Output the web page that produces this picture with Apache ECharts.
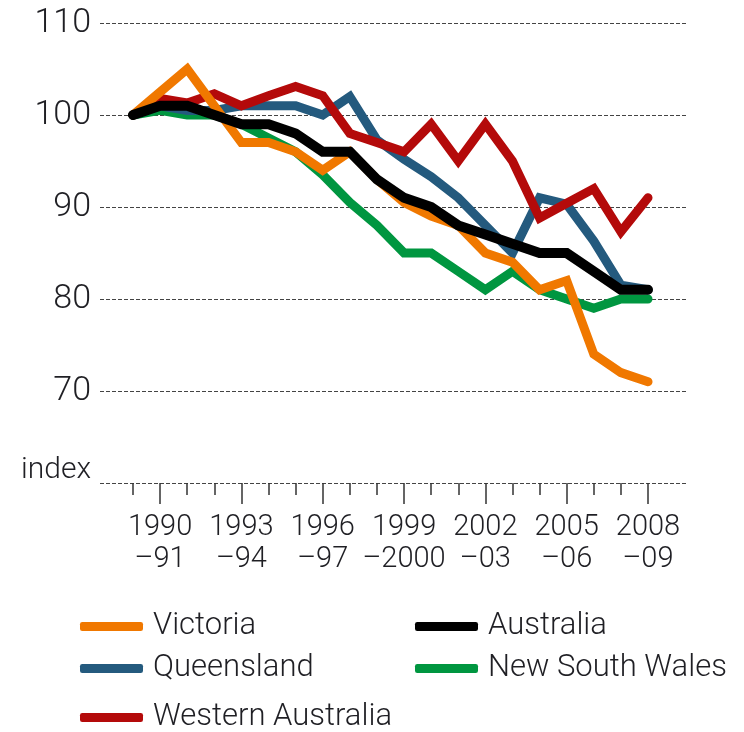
<!DOCTYPE html>
<html>
<head>
<meta charset="utf-8">
<script src="https://cdn.jsdelivr.net/npm/echarts@6/dist/echarts.min.js"></script>
<style>
  html, body { margin: 0; padding: 0; background: #fff; }
  #chart { width: 744px; height: 732px; }
</style>
</head>
<body>
<div id="chart"></div>
<script>
// financial years 1989-90 .. 2008-09
var years = ['1989\n–90', '1990\n–91', '1991\n–92', '1992\n–93', '1993\n–94', '1994\n–95',
  '1995\n–96', '1996\n–97', '1997\n–98', '1998\n–99', '1999\n–2000', '2000\n–01',
  '2001\n–02', '2002\n–03', '2003\n–04', '2004\n–05', '2005\n–06', '2006\n–07',
  '2007\n–08', '2008\n–09'];

var victoria = [100, 102.5, 105, 101, 97, 97, 96, 94, 96, 93, 90.5, 89, 88, 85, 84, 81, 82, 74, 72, 71];
var queensland = [100, 101, 100.5, 100.5, 101, 101, 101, 100, 102, 97.3, 95.2, 93.3, 91, 88, 85, 91, 90.3, 86.3, 81.5, 81];
var westernAustralia = [100, 101.8, 101.3, 102.3, 101, 102.1, 103.1, 102.1, 98, 97, 96, 99, 95, 99, 95, 88.8, 90.4, 92, 87.3, 91];
var australia = [100, 101, 101, 100, 99, 99, 98, 96, 96, 93, 91, 90, 88, 87, 86, 85, 85, 83, 81, 81];
var newSouthWales = [100, 100.5, 100, 100, 99, 97.5, 96, 93.5, 90.5, 88, 85, 85, 83, 81, 83, 81, 80, 79, 80, 80];

var font = 'Roboto';
var ink = '#1f1f24';

var chart = echarts.init(document.getElementById('chart'));

function lineSeries(name, data, color, width, z) {
  return {
    name: name,
    type: 'line',
    xAxisIndex: 0,
    yAxisIndex: 1,
    data: data,
    symbol: 'none',
    z: z,
    lineStyle: { color: color, width: width, cap: 'round', join: 'miter' },
    itemStyle: { color: color }
  };
}

function legendItem(name, left, top) {
  return {
    data: [name],
    left: left,
    top: top,
    padding: 0,
    icon: 'roundRect',
    itemWidth: 63,
    itemHeight: 9,
    selectedMode: false,
    textStyle: { fontFamily: font, fontWeight: 300, fontSize: 31, color: ink, padding: [0, 0, 0, 5] }
  };
}

chart.setOption({
  backgroundColor: '#fff',
  animation: false,
  grid: [
    // data grid
    { left: 133, right: 96, top: 23, bottom: 249 },
    // gridline grid, slightly wider
    { left: 100, right: 56, top: 23, bottom: 249 }
  ],
  xAxis: [
    {
      type: 'category',
      gridIndex: 0,
      data: years,
      boundaryGap: false,
      axisLine: { show: false },
      axisTick: { show: true, interval: 0, length: 12, lineStyle: { color: '#333', width: 1.5 } },
      axisLabel: { show: false }
    },
    {
      type: 'category',
      gridIndex: 0,
      data: years,
      boundaryGap: false,
      position: 'bottom',
      axisLine: { show: false },
      axisTick: {
        show: true, length: 21, lineStyle: { color: '#333', width: 1.5 },
        interval: function (i) { return i % 3 === 1; }
      },
      axisLabel: {
        interval: function (i) { return i % 3 === 1; },
        margin: 29,
        fontFamily: font, fontWeight: 300, fontSize: 29, lineHeight: 32, color: ink
      }
    },
    {
      type: 'value',
      gridIndex: 1,
      show: false
    }
  ],
  yAxis: [
    {
      type: 'value',
      gridIndex: 1,
      min: 60, max: 110, interval: 10,
      axisLine: { show: false },
      axisTick: { show: false },
      splitLine: { show: true, lineStyle: { color: '#444', width: 1, type: [4, 2] } },
      axisLabel: {
        margin: 9,
        color: ink,
        fontFamily: font, fontWeight: 300, fontSize: 34,
        formatter: function (v) { return v === 60 ? '{idx|index}' : String(v); },
        rich: { idx: { fontFamily: font, fontWeight: 300, fontSize: 30, color: ink, padding: [0, 0, 26, 0] } }
      }
    },
    {
      type: 'value',
      gridIndex: 0,
      min: 60, max: 110, interval: 10,
      show: false,
      splitLine: { show: false }
    }
  ],
  legend: [
    legendItem('Victoria', 80, 611),
    legendItem('Queensland', 80, 653),
    legendItem('Western Australia', 80, 702),
    legendItem('Australia', 415, 611),
    legendItem('New South Wales', 415, 653)
  ],
  series: [
    lineSeries('New South Wales', newSouthWales, '#009640', 9, 2),
    lineSeries('Queensland', queensland, '#245a7e', 9, 3),
    lineSeries('Western Australia', westernAustralia, '#b40a0a', 9, 4),
    lineSeries('Victoria', victoria, '#f07800', 9, 5),
    lineSeries('Australia', australia, '#000000', 10, 6)
  ]
});
</script>
</body>
</html>
